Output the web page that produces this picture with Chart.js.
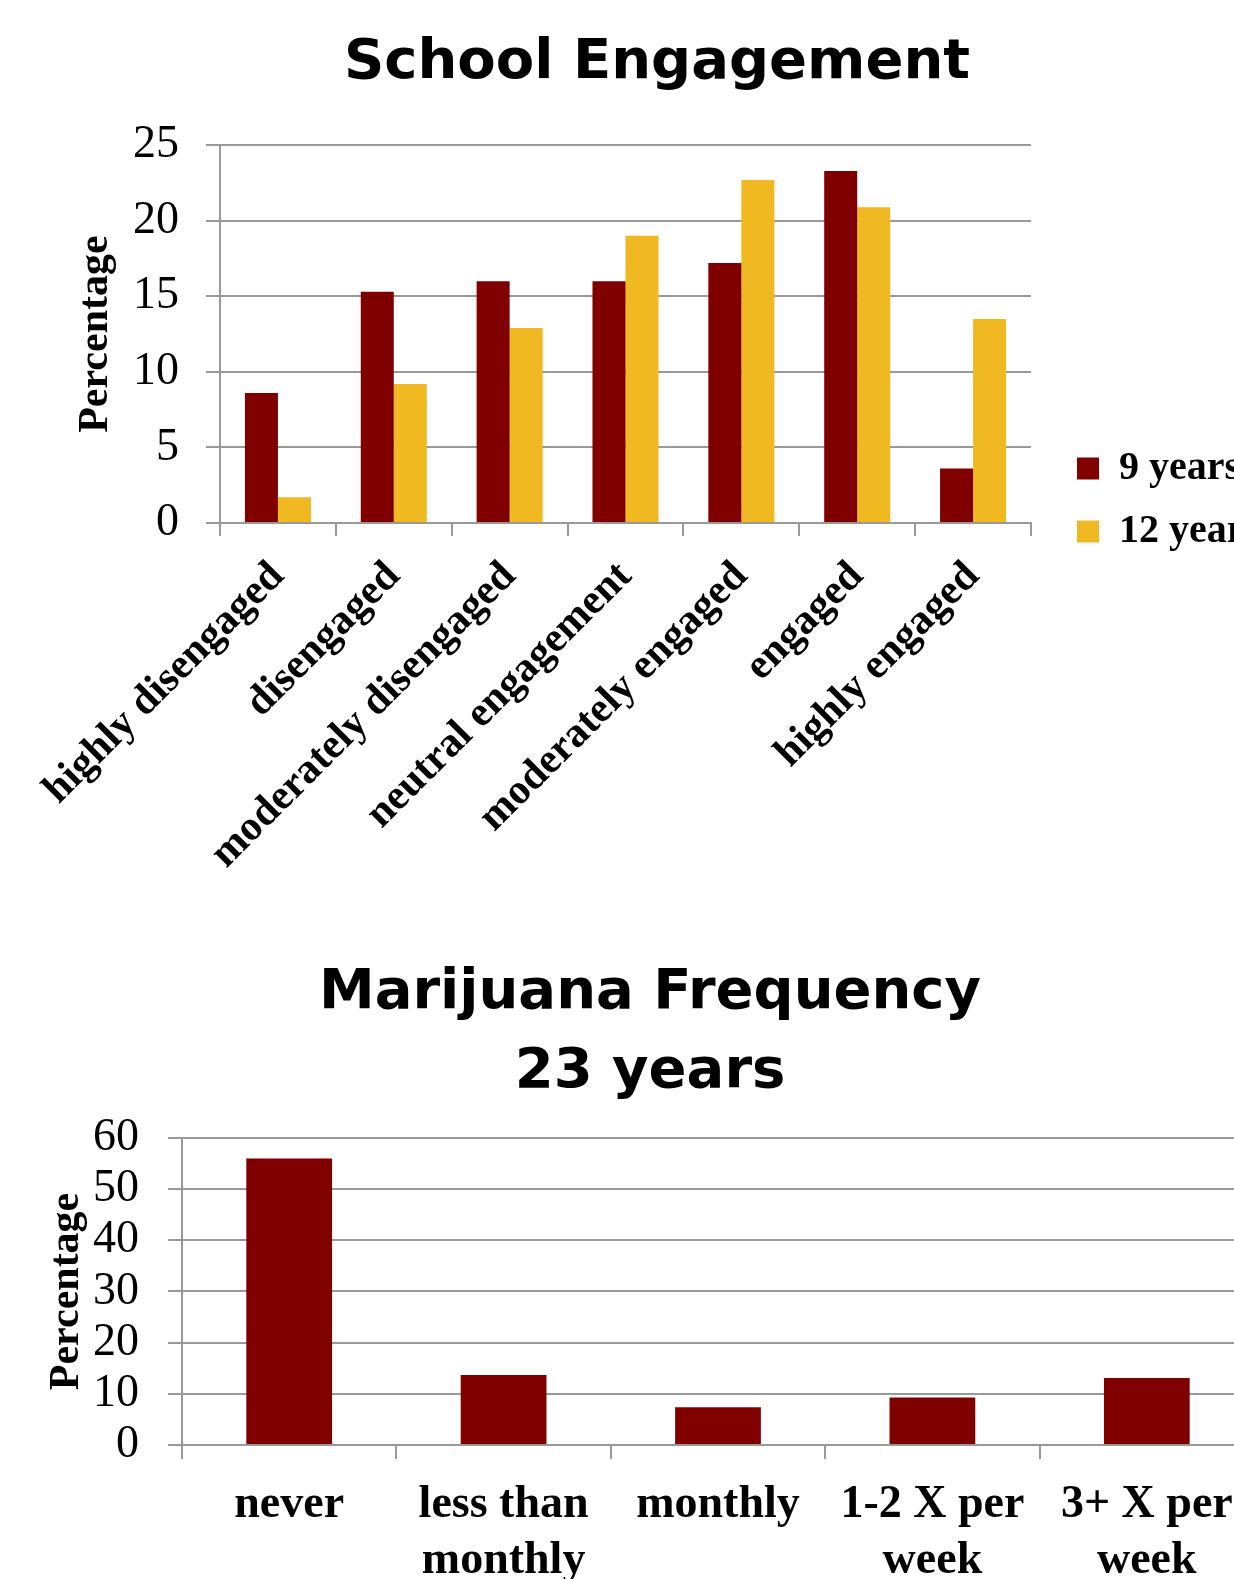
<!DOCTYPE html>
<html>
<head>
<meta charset="utf-8">
<script src="https://cdn.jsdelivr.net/npm/chart.js@4.4.1/dist/chart.umd.min.js"></script>
<style>
  html, body { margin: 0; padding: 0; background: #fff; }
  body { width: 1234px; height: 1579px; overflow: hidden; position: relative; }
  .box { position: absolute; }
  #wrap1 { left: -8px; top: 0px; width: 1270px; height: 1000px; }
  #wrap2 { left: -24px; top: 900px; width: 1278px; height: 700px; }
</style>
</head>
<body>
<div class="box" id="wrap1"><canvas id="c1" width="1270" height="1000"></canvas></div>
<div class="box" id="wrap2"><canvas id="c2" width="1278" height="700"></canvas></div>
<script>
// ---- Data: School Engagement ----
const engagementCategories = ['highly disengaged', 'disengaged', 'moderately disengaged', 'neutral engagement', 'moderately engaged', 'engaged', 'highly engaged'];
const nineYears = [8.6, 15.3, 16.0, 16.0, 17.2, 23.3, 3.6];
const twelveYears = [1.7, 9.2, 12.9, 19.0, 22.7, 20.9, 13.5];
const seriesNames = ['9 years', '12 years'];
const engagementTitle = 'School Engagement';

// ---- Data: Marijuana Frequency ----
const frequencyCategories = ['never', ['less than', 'monthly'], 'monthly', ['1-2 X per', 'week'], ['3+ X per', 'week']];
const frequencyValues = [56.0, 13.7, 7.4, 9.3, 13.1];
const frequencyTitle = ['Marijuana Frequency', '23 years'];
const yAxisTitle = 'Percentage';

const RED = '#800000';
const YELLOW = '#F0B921';
const GRID = '#999999';
const SERIF = "'Liberation Serif', 'Times New Roman', serif";
const SANS = "'DejaVu Sans', 'Liberation Sans', Arial, sans-serif";

Chart.defaults.color = '#000';
Chart.defaults.animation = false;

new Chart(document.getElementById('c1'), {
  type: 'bar',
  data: {
    labels: engagementCategories,
    datasets: [
      { label: seriesNames[0], data: nineYears, backgroundColor: RED, borderWidth: 0, categoryPercentage: 0.57, barPercentage: 1.0 },
      { label: seriesNames[1], data: twelveYears, backgroundColor: YELLOW, borderWidth: 0, categoryPercentage: 0.57, barPercentage: 1.0 }
    ]
  },
  options: {
    responsive: false,
    devicePixelRatio: 1,
    layout: { padding: { left: 60, right: 0, top: 0, bottom: 0 } },
    plugins: {
      title: {
        display: true, text: engagementTitle, color: '#000',
        font: { family: SANS, size: 56, weight: 'bold', lineHeight: 1.2 },
        padding: { top: 30, bottom: 48 }
      },
      legend: {
        display: true, position: 'right', align: 'center', maxWidth: 208,
        labels: {
          color: '#000', boxWidth: 22, boxHeight: 22, padding: 23,
          font: { family: SERIF, size: 40, weight: 'bold' }
        }
      },
      tooltip: { enabled: false }
    },
    scales: {
      x: {
        grid: { display: true, drawOnChartArea: false, drawTicks: true, tickLength: 13, color: GRID, lineWidth: 2, offset: true },
        border: { display: true, color: GRID, width: 2 },
        ticks: {
          autoSkip: false, minRotation: 45, maxRotation: 45, padding: 16,
          font: { family: SERIF, size: 42, weight: 'bold' }, color: '#000'
        },
        afterFit: s => { s.height = 477; }
      },
      y: {
        min: 0, max: 25,
        ticks: { stepSize: 5, autoSkip: false, padding: 27, font: { family: SERIF, size: 46 }, color: '#000' },
        grid: { color: GRID, lineWidth: 2, tickLength: 14, drawTicks: true },
        border: { display: true, color: GRID, width: 2 },
        title: {
          display: true, text: yAxisTitle, color: '#000',
          font: { family: SERIF, size: 42, weight: 'bold', lineHeight: 1.0 },
          padding: { top: 23, bottom: 0 }
        },
        afterFit: s => { s.width = 168; }
      },
      y2: {
        position: 'right', display: true,
        grid: { display: false }, border: { display: false }, ticks: { display: false },
        afterFit: s => { s.width = 23; }
      }
    }
  }
});

new Chart(document.getElementById('c2'), {
  type: 'bar',
  data: {
    labels: frequencyCategories,
    datasets: [
      { label: '23 years', data: frequencyValues, backgroundColor: RED, borderWidth: 0, categoryPercentage: 0.4, barPercentage: 1.0 }
    ]
  },
  options: {
    responsive: false,
    devicePixelRatio: 1,
    layout: { padding: { left: 70, right: 0, top: 0, bottom: 0 } },
    plugins: {
      title: {
        display: true, text: frequencyTitle, color: '#000',
        font: { family: SANS, size: 56, weight: 'bold', lineHeight: 1.41 },
        padding: { top: 54, bottom: 26 }
      },
      legend: { display: false },
      tooltip: { enabled: false }
    },
    scales: {
      x: {
        grid: { display: true, drawOnChartArea: false, drawTicks: true, tickLength: 14, color: GRID, lineWidth: 2, offset: true },
        border: { display: true, color: GRID, width: 2 },
        ticks: {
          autoSkip: false, maxRotation: 0, minRotation: 0, padding: 19,
          font: { family: SERIF, size: 46, weight: 'bold', lineHeight: 1.2 }, color: '#000'
        },
        afterFit: s => { s.height = 155; }
      },
      y: {
        min: 0, max: 60,
        ticks: { stepSize: 10, autoSkip: false, padding: 29, font: { family: SERIF, size: 46 }, color: '#000' },
        grid: { color: GRID, lineWidth: 2, tickLength: 14, drawTicks: true },
        border: { display: true, color: GRID, width: 2 },
        title: {
          display: true, text: yAxisTitle, color: '#000',
          font: { family: SERIF, size: 42, weight: 'bold', lineHeight: 1.0 },
          padding: { top: 0, bottom: 0 }
        },
        afterFit: s => { s.width = 136; }
      }
    }
  }
});
</script>
</body>
</html>
